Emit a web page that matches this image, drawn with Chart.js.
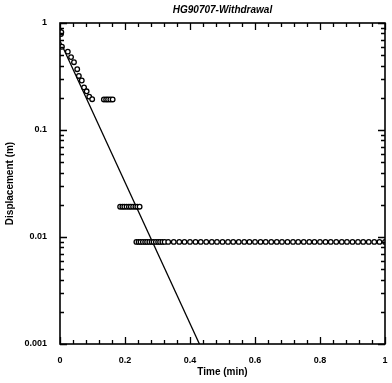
<!DOCTYPE html>
<html>
<head>
<meta charset="utf-8">
<script src="https://cdn.jsdelivr.net/npm/chart.js@4.4.0/dist/chart.umd.min.js"></script>
<style>
  html, body { margin: 0; padding: 0; background: #fff; }
</style>
</head>
<body>
<canvas id="chart" width="392" height="383"></canvas>
<script>
// observed drawdown recovery, time in minutes, displacement in metres
const timeMin = [
  0.000, 0.002, 0.003, 0.004, 0.006, 0.024, 0.034, 0.043, 0.053, 0.058,
  0.067, 0.074, 0.082, 0.090, 0.099,
  0.135, 0.142, 0.148, 0.155, 0.162,
  0.185, 0.192, 0.198, 0.205, 0.212, 0.218, 0.225, 0.232, 0.238, 0.245,
  0.235, 0.242, 0.248, 0.255, 0.262, 0.268, 0.275, 0.282, 0.288, 0.295,
  0.302, 0.308, 0.315, 0.322, 0.333, 0.350, 0.367, 0.383, 0.400, 0.417,
  0.433, 0.450, 0.467, 0.483, 0.500, 0.517, 0.533, 0.550, 0.567, 0.583,
  0.600, 0.617, 0.633, 0.650, 0.667, 0.683, 0.700, 0.717, 0.733, 0.750,
  0.767, 0.783, 0.800, 0.817, 0.833, 0.850, 0.867, 0.883, 0.900, 0.917,
  0.933, 0.950, 0.967, 0.983, 1.000
];
const dispM = [
  0.83, 0.81, 0.79, 0.82, 0.60, 0.54, 0.48, 0.43, 0.37, 0.32,
  0.29, 0.25, 0.23, 0.205, 0.194,
  0.193, 0.193, 0.193, 0.193, 0.193,
  0.0192, 0.0192, 0.0192, 0.0192, 0.0192, 0.0192, 0.0192, 0.0192, 0.0192, 0.0192,
  0.009, 0.009, 0.009, 0.009, 0.009, 0.009, 0.009, 0.009, 0.009, 0.009,
  0.009, 0.009, 0.009, 0.009, 0.009, 0.009, 0.009, 0.009, 0.009, 0.009,
  0.009, 0.009, 0.009, 0.009, 0.009, 0.009, 0.009, 0.009, 0.009, 0.009,
  0.009, 0.009, 0.009, 0.009, 0.009, 0.009, 0.009, 0.009, 0.009, 0.009,
  0.009, 0.009, 0.009, 0.009, 0.009, 0.009, 0.009, 0.009, 0.009, 0.009,
  0.009, 0.009, 0.009, 0.009, 0.009
];
// fitted straight line (end points)
const fitTime = [0, 0.429];
const fitDisp = [0.68, 0.001];

const xTicks = [0, 0.2, 0.4, 0.6, 0.8, 1];
const yTicks = [1, 0.1, 0.01, 0.001];
const yTickLabels = ['1', '0.1', '0.01', '0.001'];

const obsPoints = timeMin.map((t, i) => ({ x: t, y: dispM[i] }));
const fitPoints = fitTime.map((t, i) => ({ x: t, y: fitDisp[i] }));

const FONT = 'Arial, "Liberation Sans", sans-serif';

// frame + inward ticks on all four sides
const frameTicks = {
  id: 'frameTicks',
  afterDatasetsDraw(chart) {
    const { ctx, chartArea: a, scales } = chart;
    const xs = scales.x, ys = scales.y;
    ctx.save();
    ctx.strokeStyle = '#000';
    ctx.lineWidth = 1.6;
    ctx.strokeRect(a.left, a.top, a.right - a.left, a.bottom - a.top);
    ctx.lineWidth = 1.3;
    ctx.beginPath();
    for (let k = 0; k <= 25; k++) {
      const v = k * 0.04;
      const px = Math.round(xs.getPixelForValue(v)) + 0.5;
      const len = (k % 5 === 0) ? 7 : 4;
      ctx.moveTo(px, a.bottom); ctx.lineTo(px, a.bottom - len);
      ctx.moveTo(px, a.top); ctx.lineTo(px, a.top + len);
    }
    for (let e = -3; e <= 0; e++) {
      for (let m = 1; m <= 9; m++) {
        const v = m * Math.pow(10, e);
        if (v > 1) break;
        const py = Math.round(ys.getPixelForValue(v)) + 0.5;
        const len = (m === 1) ? 7 : 4;
        ctx.moveTo(a.left, py); ctx.lineTo(a.left + len, py);
        ctx.moveTo(a.right, py); ctx.lineTo(a.right - len, py);
      }
    }
    ctx.stroke();
    ctx.restore();
  }
};

new Chart(document.getElementById('chart'), {
  type: 'scatter',
  data: {
    datasets: [
      {
        label: 'Observed',
        data: obsPoints,
        pointStyle: 'circle',
        pointRadius: 2.3,
        pointBorderWidth: 1.3,
        pointBorderColor: '#000',
        pointBackgroundColor: '#fff',
        showLine: false
      },
      {
        label: 'Fit',
        data: fitPoints,
        showLine: true,
        borderColor: '#000',
        borderWidth: 1.3,
        pointRadius: 0
      }
    ]
  },
  plugins: [frameTicks],
  options: {
    responsive: false,
    animation: false,
    devicePixelRatio: 1,
    layout: { padding: { left: 0, right: 7, top: 0, bottom: 0 } },
    plugins: {
      legend: { display: false },
      tooltip: { enabled: false },
      title: {
        display: true,
        fullSize: false,
        text: 'HG90707-Withdrawal',
        color: '#000',
        font: { family: FONT, size: 10, weight: 'bold', style: 'italic' },
        padding: { top: 4, bottom: 7 }
      }
    },
    scales: {
      x: {
        type: 'linear',
        min: 0,
        max: 1,
        grid: { display: false },
        border: { display: false },
        afterBuildTicks(scale) { scale.ticks = xTicks.map(v => ({ value: v })); },
        afterFit(scale) { scale.height = 39; },
        ticks: {
          color: '#000',
          padding: 3,
          maxRotation: 0,
          font: { family: FONT, size: 9, weight: 'bold' },
          callback: v => String(v)
        },
        title: {
          display: true,
          text: 'Time (min)',
          color: '#000',
          font: { family: FONT, size: 10, weight: 'bold' },
          padding: { top: 4, bottom: 5 }
        }
      },
      y: {
        type: 'logarithmic',
        min: 0.001,
        max: 1,
        grid: { display: false },
        border: { display: false },
        afterBuildTicks(scale) { scale.ticks = yTicks.map(v => ({ value: v })); },
        afterFit(scale) { scale.width = 60; },
        ticks: {
          color: '#000',
          padding: 5,
          font: { family: FONT, size: 9, weight: 'bold' },
          callback: v => yTickLabels[yTicks.indexOf(v)]
        },
        title: {
          display: true,
          text: 'Displacement (m)',
          color: '#000',
          font: { family: FONT, size: 10, weight: 'bold' },
          padding: { top: 4, bottom: 4 }
        }
      }
    }
  }
});
</script>
</body>
</html>
